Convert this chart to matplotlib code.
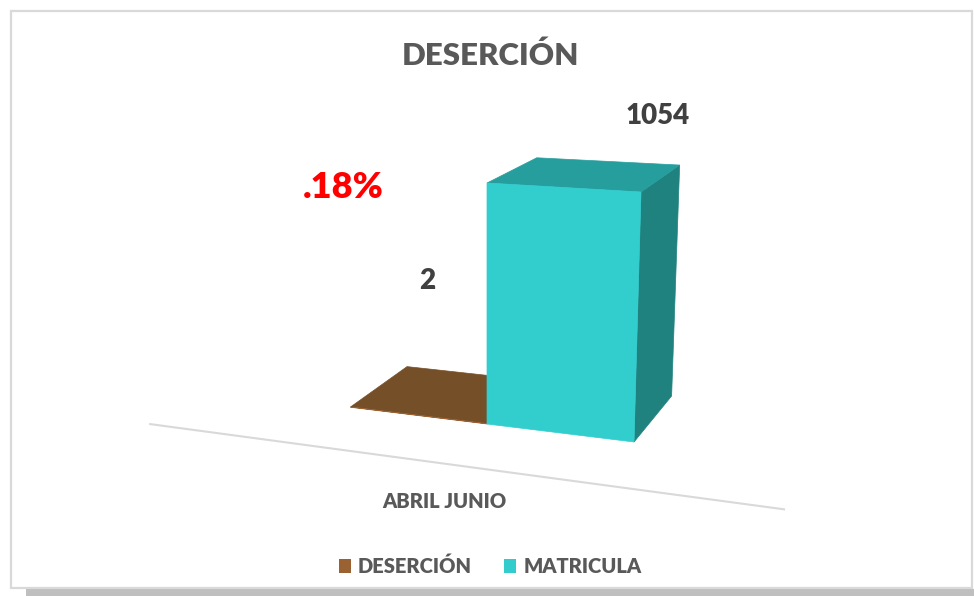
import numpy as np
import matplotlib
matplotlib.use("Agg")
import matplotlib.pyplot as plt
from matplotlib.patches import Polygon, Rectangle, Patch

plt.rcParams['font.family'] = ['Lato', 'DejaVu Sans']

# ---- data ----
title = 'DESERCIÓN'
categories = ['ABRIL JUNIO']
series_names = ['DESERCIÓN', 'MATRICULA']
series_values = [2, 1054]
rate_label = '.18%'

# ---- style ----
face_colors = [
    {'front': '#9A6232', 'top': '#754F28', 'right': '#5E3F20', 'legend': '#9A6232'},
    {'front': '#32CDCD', 'top': '#269E9E', 'right': '#1F827F', 'legend': '#33CCCC'},
]
TITLE_C = '#595959'
LABEL_C = '#404040'
WEIGHT = 'heavy'

W, H = 974, 596
fig = plt.figure(figsize=(W / 100, H / 100), dpi=100)
ax = fig.add_axes([0, 0, 1, 1])
ax.set_xlim(0, W)
ax.set_ylim(H, 0)
ax.axis('off')

# chart frame and shadow
ax.add_patch(Rectangle((26, 589), W - 26, 7, facecolor='#BFBFBF', edgecolor='none', zorder=0))
ax.add_patch(Rectangle((11, 11), 961, 577, facecolor='white', edgecolor='#D9D9D9', lw=1.6, zorder=1))

# ---- simple perspective camera (layout) ----
VX = np.array([-3280.0, -37.0])
VY = np.array([1100.0, -128.0])
VZ = np.array([487.0, 5700.0])
O = np.array([487.0, 424.0])
LX, LY = -0.03756, 0.0845
LZ = -0.04368 / 1054.0


def proj(X, Y, Z):
    num = LX * X * VX + LY * Y * VY + LZ * Z * VZ + O
    den = LX * X + LY * Y + LZ * Z + 1.0
    return num / den


def face(pts):
    return np.array([proj(*p) for p in pts])


# floor front edge
floor_y = -0.79
p0 = proj(-2.13, floor_y, 0)
p1 = proj(2.09, floor_y, 0)
ax.plot([p0[0], p1[0]], [p0[1], p1[1]], color='#D9D9D9', lw=1.5, zorder=2,
        solid_capstyle='butt')

# bars (series side by side, each one unit wide, one unit deep)
for i, (val, cols) in enumerate(zip(series_values, face_colors)):
    x0, x1 = i - 1, i
    h = val
    right = face([(x1, 0, 0), (x1, 1, 0), (x1, 1, h), (x1, 0, h)])
    top = face([(x0, 0, h), (x1, 0, h), (x1, 1, h), (x0, 1, h)])
    front = face([(x0, 0, 0), (x1, 0, 0), (x1, 0, h), (x0, 0, h)])
    for poly, key in ((right, 'right'), (top, 'top'), (front, 'front')):
        ax.add_patch(Polygon(poly, closed=True, facecolor=cols[key],
                             edgecolor=cols[key], lw=0.5, zorder=3 + i))

# ---- texts ----
ax.text(491, 56, title, ha='center', va='center', fontsize=22.5, fontweight=WEIGHT,
        color=TITLE_C, zorder=10)
ax.text(658, 116, str(series_values[1]), ha='center', va='center', fontsize=20,
        fontweight=WEIGHT, color=LABEL_C, zorder=10)
ax.text(427, 281, str(series_values[0]), ha='center', va='center', fontsize=20,
        fontweight=WEIGHT, color=LABEL_C, zorder=10)
ax.text(343, 187, rate_label, ha='center', va='center', fontsize=26,
        fontweight=WEIGHT, color='#FF0000', zorder=10)
ax.text(444, 502, categories[0], ha='center', va='center', fontsize=14.5,
        fontweight=WEIGHT, color=TITLE_C, zorder=10)

handles = [Patch(facecolor=c['legend'], edgecolor='none', label=n)
           for c, n in zip(face_colors, series_names)]
fig.legend(handles=handles, loc='center', bbox_to_anchor=(490 / W, 1 - 566 / H),
           ncol=2, frameon=False, handlelength=0.6, handleheight=0.72,
           handletextpad=0.35, columnspacing=1.6, labelcolor=TITLE_C,
           prop={'family': ['Lato', 'DejaVu Sans'], 'weight': WEIGHT, 'size': 14.5})

fig.savefig('out.png', dpi=100)
